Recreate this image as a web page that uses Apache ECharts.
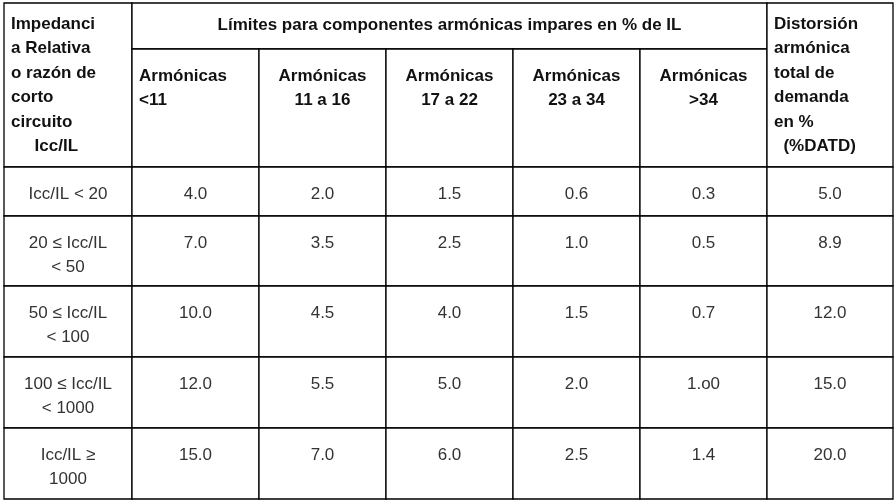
<!DOCTYPE html>
<html>
<head>
<meta charset="utf-8">
<script src="https://cdn.jsdelivr.net/npm/echarts@6/dist/echarts.min.js"></script>
<style>html,body{margin:0;padding:0;background:#fff}#main{width:895px;height:502px}</style>
</head>
<body>
<div id="main"></div>
<script>
// datos de la tabla
var rowLabels = ['Icc/IL < 20', '20 ≤ Icc/IL\n< 50', '50 ≤ Icc/IL\n< 100', '100 ≤ Icc/IL\n< 1000', 'Icc/IL ≥\n1000'];
var col1 = ['4.0', '7.0', '10.0', '12.0', '15.0'];
var col2 = ['2.0', '3.5', '4.5', '5.5', '7.0'];
var col3 = ['1.5', '2.5', '4.0', '5.0', '6.0'];
var col4 = ['0.6', '1.0', '1.5', '2.0', '2.5'];
var col5 = ['0.3', '0.5', '0.7', '1.o0', '1.4'];
var datd = ['5.0', '8.9', '12.0', '15.0', '20.0'];
var subHeaders = ['Armónicas\n<11', 'Armónicas\n11 a 16', 'Armónicas\n17 a 22', 'Armónicas\n23 a 34', 'Armónicas\n>34'];
var firstHeader = 'Impedanci\na Relativa\no razón de\ncorto\ncircuito\n     Icc/IL';
var topHeader = 'Límites para componentes armónicas impares en % de IL';
var lastHeader = 'Distorsión\narmónica\ntotal de\ndemanda\nen %\n  (%DATD)';

// bordes de la cuadrícula
var colEdges = [4, 132, 259, 386, 513, 640, 767, 893];
var rowEdges = [167, 216, 286, 357, 428, 499];
var topY = 3, subY = 49;

var cells = [];
// cabeceras: [x0, x1, y0, y1, texto, negrita, alineación, margen superior]
cells.push([colEdges[0], colEdges[1], topY, rowEdges[0], firstHeader, 1, 'left', 9]);
cells.push([colEdges[1], colEdges[6], topY, subY, topHeader, 1, 'center', 10]);
subHeaders.forEach(function (t, i) {
    cells.push([colEdges[i + 1], colEdges[i + 2], subY, rowEdges[0], t, 1, i === 0 ? 'left' : 'center', 15]);
});
cells.push([colEdges[6], colEdges[7], topY, rowEdges[0], lastHeader, 1, 'left', 9]);
var cols = [rowLabels, col1, col2, col3, col4, col5, datd];
for (var r = 0; r < rowLabels.length; r++) {
    for (var c = 0; c < cols.length; c++) {
        cells.push([colEdges[c], colEdges[c + 1], rowEdges[r], rowEdges[r + 1], cols[c][r], 0, 'center', 15]);
    }
}

var myChart = echarts.init(document.getElementById('main'));
var option = {
    animation: false,
    grid: { left: 0, right: 0, top: 0, bottom: 0 },
    xAxis: { type: 'value', min: 0, max: 895, show: false },
    yAxis: { type: 'value', min: 0, max: 502, inverse: true, show: false },
    series: [{
        type: 'custom',
        data: cells,
        renderItem: function (params, api) {
            var p0 = api.coord([api.value(0), api.value(2)]);
            var p1 = api.coord([api.value(1), api.value(3)]);
            var d = cells[params.dataIndex];
            var bold = d[5] === 1;
            var align = d[6];
            var tx = align === 'left' ? p0[0] + 7 : (p0[0] + p1[0]) / 2;
            return {
                type: 'group',
                children: [{
                    type: 'rect',
                    shape: { x: p0[0], y: p0[1], width: p1[0] - p0[0], height: p1[1] - p0[1] },
                    style: { fill: '#fff', stroke: '#000', lineWidth: 1.3 }
                }, {
                    type: 'text',
                    style: {
                        x: tx, y: p0[1] + d[7],
                        text: d[4],
                        align: align, verticalAlign: 'top',
                        font: (bold ? 'bold 17px' : '17px') + ' "Liberation Sans", Arial, sans-serif',
                        lineHeight: bold ? 24.5 : 24,
                        fill: bold ? '#111' : '#333'
                    }
                }]
            };
        }
    }]
};
myChart.setOption(option);
</script>
</body>
</html>
